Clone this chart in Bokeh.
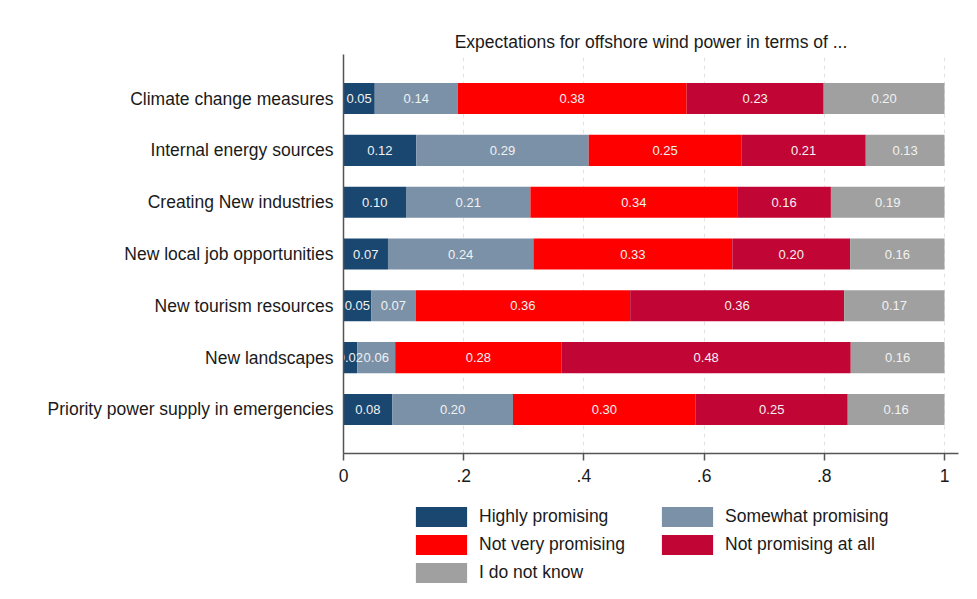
import numpy as np
from bokeh.plotting import figure
from bokeh.layouts import column
from bokeh.models import ColumnDataSource, Legend, LegendItem, FixedTicker
from bokeh.core.properties import value
from bokeh.embed import file_html
from bokeh.resources import INLINE

categories = ["Climate change measures", "Internal energy sources", "Creating New industries",
              "New local job opportunities", "New tourism resources", "New landscapes",
              "Priority power supply in emergencies"]
highly = [0.052, 0.121, 0.104, 0.074, 0.046, 0.023, 0.081]
somewhat = [0.138, 0.287, 0.207, 0.242, 0.074, 0.063, 0.201]
not_very = [0.381, 0.254, 0.344, 0.331, 0.357, 0.277, 0.304]
not_at_all = [0.228, 0.207, 0.156, 0.196, 0.356, 0.481, 0.253]
dont_know = [0.201, 0.131, 0.189, 0.157, 0.167, 0.156, 0.161]

series_names = ["Highly promising", "Somewhat promising", "Not very promising",
                "Not promising at all", "I do not know"]
series_keys = ["highly", "somewhat", "not_very", "not_at_all", "dont_know"]
colors = ["#1a476f", "#7b91a7", "#ff0000", "#c10534", "#a0a0a0"]
x_ticks = [0, 0.2, 0.4, 0.6, 0.8, 1]
x_tick_labels = ["0", ".2", ".4", ".6", ".8", "1"]

n = len(categories)
ypos = list(range(n, 0, -1))
data = dict(y=ypos, highly=highly, somewhat=somewhat, not_very=not_very,
            not_at_all=not_at_all, dont_know=dont_know)
src = ColumnDataSource(data)

FONT = "Liberation Sans"
TXT = "#1a1a1a"

p = figure(frame_width=615, frame_height=399, x_range=(0, 615 / 601), y_range=(0.15, n + 0.85),
           output_backend="svg", toolbar_location=None,
           min_border_left=343, min_border_right=3, min_border_top=54, min_border_bottom=45)
p.outline_line_color = None
p.background_fill_color = "white"
p.border_fill_color = "white"

p.title.text = "Expectations for offshore wind power in terms of ..."
p.title.align = "center"
p.title.text_font = FONT
p.title.text_font_size = "17.5px"
p.title.text_font_style = "normal"
p.title.text_color = TXT
p.title.standoff = 6

p.hbar_stack(series_keys, y="y", height=0.6, color=colors, source=src, line_width=0)

# value labels
vals = np.array([highly, somewhat, not_very, not_at_all, dont_know])
cum = np.cumsum(vals, axis=0)
mids = cum - vals / 2
lx, ly, lt = [], [], []
for s in range(vals.shape[0]):
    for i in range(n):
        lx.append(mids[s, i])
        ly.append(ypos[i])
        lt.append(f"{vals[s, i]:.2f}")
p.text(x=lx, y=ly, text=lt, text_align="center", text_baseline="middle",
       text_color="#f2f2f2", text_font=value(FONT), text_font_size="13px")

# axes
p.xaxis.ticker = FixedTicker(ticks=x_ticks)
p.xaxis.major_label_overrides = {t: l for t, l in zip(x_ticks, x_tick_labels)}
p.xaxis.minor_tick_line_color = None
p.xaxis.major_tick_in = 0
p.xaxis.major_tick_out = 7
p.xaxis.major_label_standoff = 8
p.xaxis.major_label_text_font = FONT
p.xaxis.major_label_text_font_size = "17.5px"
p.xaxis.major_label_text_color = TXT
p.xaxis.axis_line_color = "#555555"
p.xaxis.axis_line_width = 1.5
p.xaxis.major_tick_line_color = "#555555"
p.xaxis.major_tick_line_width = 1.5

p.yaxis.ticker = FixedTicker(ticks=ypos)
p.yaxis.major_label_overrides = {y: c for y, c in zip(ypos, categories)}
p.yaxis.minor_tick_line_color = None
p.yaxis.major_tick_in = 0
p.yaxis.major_tick_out = 0
p.yaxis.major_label_standoff = 10
p.yaxis.major_label_text_font = FONT
p.yaxis.major_label_text_font_size = "17.5px"
p.yaxis.major_label_text_color = TXT
p.yaxis.axis_line_color = "#555555"
p.yaxis.axis_line_width = 1.5

p.ygrid.grid_line_color = None
p.xgrid.ticker = FixedTicker(ticks=x_ticks[1:])
p.xgrid.grid_line_color = "#e4e4e4"
p.xgrid.grid_line_dash = "4 4"
p.xgrid.grid_line_width = 1

# legend strip underneath (its frame is aligned with the main frame)
lg_fig = figure(width=961, height=85, x_range=(0, 1), y_range=(0, 1),
                x_axis_type=None, y_axis_type=None, output_backend="svg",
                toolbar_location=None, min_border=0)
lg_fig.outline_line_color = None
lg_fig.grid.visible = False
# legend proxies: a single undrawn (NaN) row per series, only used for the swatches
proxy = ColumnDataSource(dict(y=[np.nan], **{k: [np.nan] for k in series_keys}))
swatches = lg_fig.hbar_stack(series_keys, y="y", height=0.6, color=colors, source=proxy, line_width=0)


def make_legend(idx, loc):
    items = [LegendItem(label=series_names[i], renderers=[swatches[i]]) for i in idx]
    return Legend(items=items, location=loc, orientation="vertical",
                  glyph_width=64, glyph_height=25, label_height=25, label_standoff=6,
                  spacing=3, padding=0, margin=0,
                  label_text_font=FONT, label_text_font_size="17.5px", label_text_color=TXT,
                  border_line_alpha=0, background_fill_alpha=0)


lg_fig.add_layout(make_legend([0, 2, 4], (66, -2)))
lg_fig.add_layout(make_legend([1, 3], (312, 26)))

layout = column(p, lg_fig, spacing=0)
open("out.html", "w").write(file_html(layout, INLINE))
